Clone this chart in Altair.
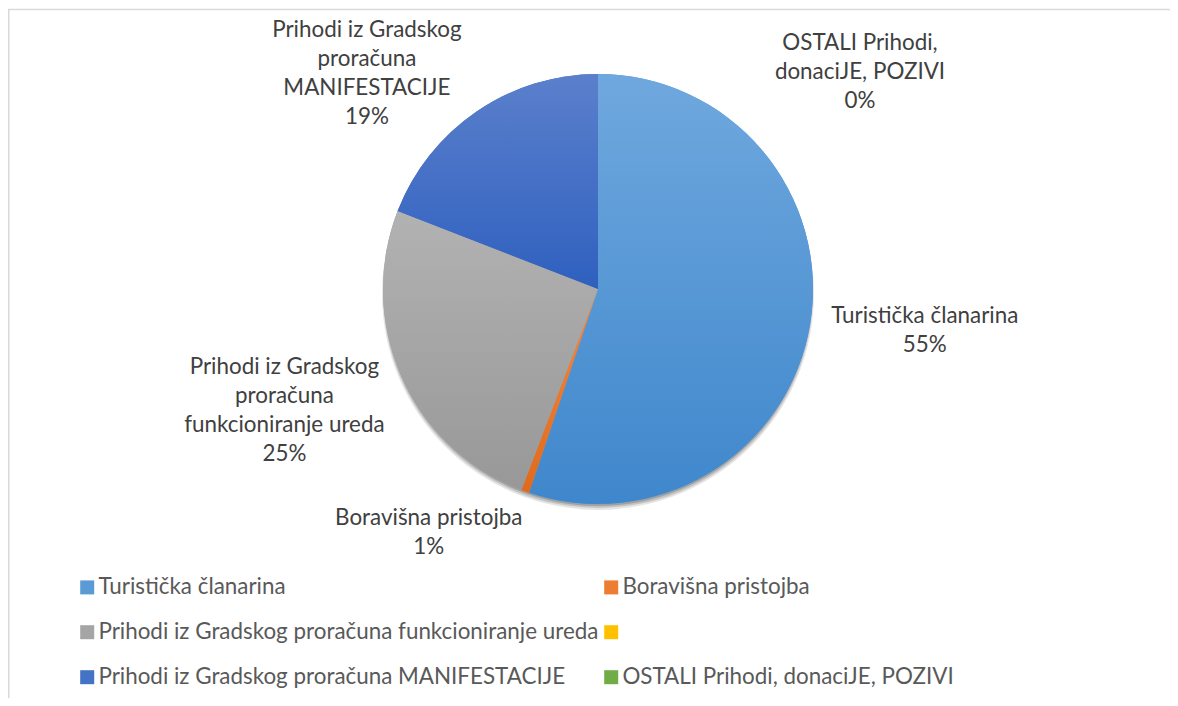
import altair as alt
import pandas as pd
import math

categories = [
    "Turistička članarina",
    "Boravišna pristojba",
    "Prihodi iz Gradskog proračuna funkcioniranje ureda",
    " ",
    "Prihodi iz Gradskog proračuna MANIFESTACIJE",
    "OSTALI Prihodi, donaciJE, POZIVI",
]
values = [55.2, 0.6, 25.1, 0.0, 19.1, 0.0]
labels = [
    "Turistička članarina\n55%",
    "Boravišna pristojba\n1%",
    "Prihodi iz Gradskog\nproračuna\nfunkcioniranje ureda\n25%",
    "",
    "Prihodi iz Gradskog\nproračuna\nMANIFESTACIJE\n19%",
    "OSTALI Prihodi,\ndonaciJE, POZIVI\n0%",
]
colors = ["#5B9BD5", "#ED7D31", "#A5A5A5", "#FFC000", "#4472C4", "#70AD47"]
grad_top = ["#6FA8DE", "#F08A45", "#B2B2B2", "#FFCC33", "#5B80CC", "#7DB954"]
grad_bot = ["#3F87CC", "#E06A1C", "#989898", "#F2B300", "#2F60BF", "#62A03C"]

df = pd.DataFrame({
    "cat": categories,
    "value": values,
    "label": labels,
    "order": list(range(len(categories))),
})
total = sum(values)

CX, CY, R = 590, 281, 215
FONT = "Lato"
FS = 22.4
LH = 29

base = alt.Chart(df).transform_window(
    cum="sum(value)", sort=[alt.SortField("order")], frame=[None, 0]
).transform_calculate(
    start="datum.cum - datum.value",
    mid="datum.cum - datum.value / 2",
)

theta_scale = alt.Scale(domain=[0, total], range=[0, 2 * math.pi])

# shadow
shadow_df = pd.DataFrame({"k": [0]})
shadows = []
for dy, rr, op in [(5, 216, 0.10), (4, 215, 0.14), (3, 214, 0.18)]:
    shadows.append(
        alt.Chart(shadow_df).mark_arc(theta=0, theta2=2 * math.pi, radius=rr, color="#000000", opacity=op)
        .encode(x=alt.value(CX), y=alt.value(CY + dy))
    )

arcs = base.mark_arc(radius=R).encode(
    theta=alt.Theta("start:Q", scale=theta_scale),
    theta2="cum:Q",
    x=alt.value(CX),
    y=alt.value(CY),
    color=alt.Color(
        "cat:N",
        scale=alt.Scale(domain=categories, range=colors),
        sort=categories,
        legend=alt.Legend(
            title=None,
            orient="none",
            legendX=68,
            legendY=568,
            direction="horizontal",
            columns=2,
            columnPadding=1,
            rowPadding=22,
            symbolType="square",
            symbolSize=196,
            symbolStrokeWidth=0,
            labelFont=FONT,
            labelFontSize=FS,
            labelColor="#595959",
            labelOffset=0,
            labelLimit=800,
            padding=0,
        ),
    ),
)

grad_layers = []
for i, c in enumerate(categories):
    if values[i] <= 0:
        continue
    g = alt.Gradient(
        gradient="linear",
        stops=[alt.GradientStop(color=grad_top[i], offset=0), alt.GradientStop(color=grad_bot[i], offset=1)],
        x1=0, x2=0, y1=0, y2=1,
    )
    grad_layers.append(
        base.transform_filter(alt.datum.cat == c).mark_arc(radius=R, fill=g).encode(
            theta=alt.Theta("start:Q", scale=theta_scale),
            theta2="cum:Q",
            x=alt.value(CX),
            y=alt.value(CY),
        )
    )

# label placement: (radius, dx, dy) per category; dy is for the block centre
label_place = {
    categories[0]: (320, 11, -11),
    categories[1]: (290, -71, -29),
    categories[2]: (330, -12, -12),
    categories[4]: (280, -73, 16),
    categories[5]: (217, 262, 0),
}
text_layers = []
for i, c in enumerate(categories):
    if c not in label_place:
        continue
    rr, dx, dy = label_place[c]
    n = labels[i].count("\n") + 1
    text_layers.append(
        base.transform_filter(alt.datum.cat == c).mark_text(
            font=FONT, fontSize=FS, color="#404040", lineBreak="\n",
            lineHeight=LH, align="center", baseline="middle",
            dx=dx, dy=dy - (n - 1) * LH / 2,
        ).encode(
            theta=alt.Theta("mid:Q", scale=theta_scale),
            radius=alt.value(rr),
            x=alt.value(CX),
            y=alt.value(CY),
            text="label:N",
        )
    )

border_df = pd.DataFrame({"k": [0]})
top_border = alt.Chart(border_df).mark_rule(color="#D9D9D9", strokeWidth=1.5).encode(
    x=alt.value(0), x2=alt.value(1162), y=alt.value(1.5)
)
left_border = alt.Chart(border_df).mark_rule(color="#D9D9D9", strokeWidth=1.5).encode(
    x=alt.value(0.75), y=alt.value(1.5), y2=alt.value(690)
)

chart = alt.layer(
    top_border, left_border, *shadows, arcs, *grad_layers, *text_layers
).properties(
    width=1162, height=690,
    autosize=alt.AutoSizeParams(type="none"),
    padding=0,
    background="#FFFFFF",
).configure_view(stroke=None)

chart.save("out.html", embed_options={"renderer": "svg", "actions": False})
